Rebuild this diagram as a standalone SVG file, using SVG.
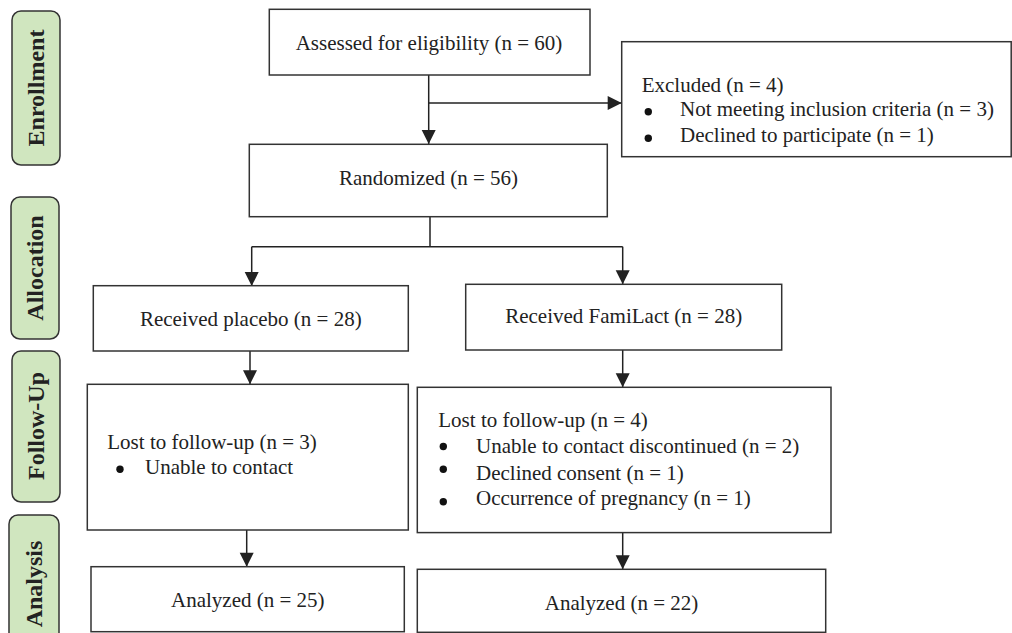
<svg xmlns="http://www.w3.org/2000/svg" width="1012" height="633" viewBox="0 0 1012 633">
<style>
.box{fill:#fff;stroke:#333;stroke-width:1.5}
.lab{fill:#d0e6bf;stroke:#333;stroke-width:1.5}
.t{font-family:"Liberation Serif","Times New Roman",serif;font-size:21px;fill:#222}
.c{text-anchor:middle}
.lt{font-family:"Liberation Serif","Times New Roman",serif;font-size:24px;font-weight:bold;fill:#222;text-anchor:middle}
.ln{fill:none;stroke:#222;stroke-width:1.5}
.b{fill:#111}
</style>
<defs>
<marker id="ah" markerUnits="userSpaceOnUse" markerWidth="16" markerHeight="16" viewBox="0 0 16 16" refX="15" refY="8" orient="auto">
<path d="M1,1 L15,8 L1,15 Z" fill="#222"/>
</marker>
</defs>
<g id="labels">
<g id="lab-enrollment"><rect class="lab" x="12" y="11" width="48" height="154" rx="9"/><text class="lt" transform="translate(44,88) rotate(-90)">Enrollment</text></g>
<g id="lab-allocation"><rect class="lab" x="11" y="197" width="48" height="142" rx="9"/><text class="lt" transform="translate(43,268) rotate(-90)">Allocation</text></g>
<g id="lab-followup"><rect class="lab" x="12" y="351" width="48" height="151" rx="9"/><text class="lt" transform="translate(44,426) rotate(-90)">Follow-Up</text></g>
<g id="lab-analysis"><rect class="lab" x="9" y="515" width="50" height="130" rx="9"/><text class="lt" transform="translate(42,584) rotate(-90)">Analysis</text></g>
</g>
<g id="connectors">
<path class="ln" d="M428.7,75 V144" marker-end="url(#ah)"/>
<path class="ln" d="M428.7,103 H621.7" marker-end="url(#ah)"/>
<path class="ln" d="M430,216.7 V246.7 M251.7,246.7 H622.7"/>
<path class="ln" d="M251.7,246.7 V286" marker-end="url(#ah)"/>
<path class="ln" d="M622.7,246.7 V284.3" marker-end="url(#ah)"/>
<path class="ln" d="M250,351 V384.3" marker-end="url(#ah)"/>
<path class="ln" d="M622.7,350 V387.3" marker-end="url(#ah)"/>
<path class="ln" d="M246.7,530 V566.7" marker-end="url(#ah)"/>
<path class="ln" d="M622.7,532.6 V569.3" marker-end="url(#ah)"/>
</g>
<g id="assessed"><rect class="box" x="269.3" y="9.3" width="320.7" height="65.7"/><text class="t c" x="429" y="50">Assessed for eligibility (n = 60)</text></g>
<g id="excluded"><rect class="box" x="621.7" y="41.7" width="389.5" height="115"/>
<text class="t" x="641.7" y="91.7">Excluded (n = 4)</text>
<circle class="b" cx="648.3" cy="111.7" r="3.7"/><text class="t" x="680" y="116">Not meeting inclusion criteria (n = 3)</text>
<circle class="b" cx="648.3" cy="138.3" r="3.7"/><text class="t" x="680" y="141.7">Declined to participate (n = 1)</text></g>
<g id="randomized"><rect class="box" x="249.3" y="144.3" width="358" height="72.4"/><text class="t c" x="428.5" y="185">Randomized (n = 56)</text></g>
<g id="placebo"><rect class="box" x="93.3" y="285.7" width="315" height="65.3"/><text class="t c" x="250.8" y="326">Received placebo (n = 28)</text></g>
<g id="familact"><rect class="box" x="465.7" y="284.3" width="316" height="65.7"/><text class="t c" x="623.7" y="323.3">Received FamiLact (n = 28)</text></g>
<g id="lost-placebo"><rect class="box" x="87.3" y="384.3" width="321" height="145.7"/>
<text class="t" x="107.3" y="449">Lost to follow-up (n = 3)</text>
<circle class="b" cx="120" cy="469.3" r="3.7"/><text class="t" x="145" y="474">Unable to contact</text></g>
<g id="lost-familact"><rect class="box" x="417.3" y="387.3" width="413.7" height="145.3"/>
<text class="t" x="438.3" y="426.7">Lost to follow-up (n = 4)</text>
<circle class="b" cx="443.3" cy="446.5" r="3.7"/><text class="t" x="476" y="453.3">Unable to contact discontinued (n = 2)</text>
<circle class="b" cx="443.3" cy="469.3" r="3.7"/><text class="t" x="476" y="480">Declined consent (n = 1)</text>
<circle class="b" cx="443.3" cy="501.7" r="3.7"/><text class="t" x="476" y="505">Occurrence of pregnancy (n = 1)</text></g>
<g id="analyzed-placebo"><rect class="box" x="91" y="566.7" width="313.3" height="65"/><text class="t c" x="247.8" y="606.7">Analyzed (n = 25)</text></g>
<g id="analyzed-familact"><rect class="box" x="417.3" y="569.3" width="408.4" height="63"/><text class="t c" x="621.5" y="610">Analyzed (n = 22)</text></g>
</svg>
